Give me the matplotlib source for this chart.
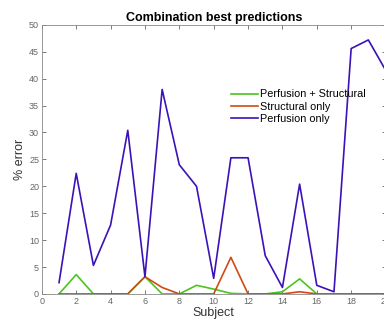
import matplotlib
matplotlib.use("Agg")
import matplotlib.pyplot as plt

# data
subjects = list(range(1, 21))
perf_struct = [0, 3.6, 0, 0, 0, 3.2, 0, 0, 1.6, 0.9, 0.1, 0, 0, 0.4, 2.8, 0, 0, 0, 0, 0]
struct_only = [0, 0, 0, 0, 0, 3.2, 1.2, 0, 0, 0, 6.8, 0, 0, 0, 0.4, 0, 0, 0, 0, 0]
perf_only = [2.1, 22.4, 5.3, 12.8, 30.4, 3.2, 38.0, 24.0, 20.0, 2.9, 25.3, 25.3, 7.1,
             1.2, 20.4, 1.6, 0.4, 45.6, 47.2, 41.6]

plt.rcParams['font.family'] = ['Liberation Sans', 'DejaVu Sans']

fig = plt.figure(figsize=(3.84, 3.23), dpi=100)
ax = fig.add_axes([0.109, 0.090, 0.895, 0.833])

ax.plot(subjects, perf_struct, color='#4cc41e', lw=1.2, label='Perfusion + Structural')
ax.plot(subjects, struct_only, color='#cf4a14', lw=1.2, label='Structural only')
ax.plot(subjects, perf_only, color='#3b12b8', lw=1.2, label='Perfusion only')

ax.set_xlim(0, 20)
ax.set_ylim(0, 50)
ax.set_xticks(range(0, 21, 2))
ax.set_yticks(range(0, 51, 5))
ax.tick_params(direction='in', length=3, width=0.6, colors='#666666', labelsize=6.5,
               top=True, right=True, pad=2)
for s in ax.spines.values():
    s.set_color('#888888')
    s.set_linewidth(0.6)

ax.set_xlabel('Subject', fontsize=9, color='#333333', labelpad=1)
ax.set_ylabel('% error', fontsize=9, color='#333333', labelpad=2)
ax.set_title('Combination best predictions', fontsize=9, fontweight='bold', pad=3)

ax.legend(loc='upper left', bbox_to_anchor=(0.537, 0.776), frameon=False, fontsize=7.8,
          handlelength=2.5, handletextpad=0.2, labelspacing=0.2, borderaxespad=0)

fig.savefig('out.png', dpi=100)
